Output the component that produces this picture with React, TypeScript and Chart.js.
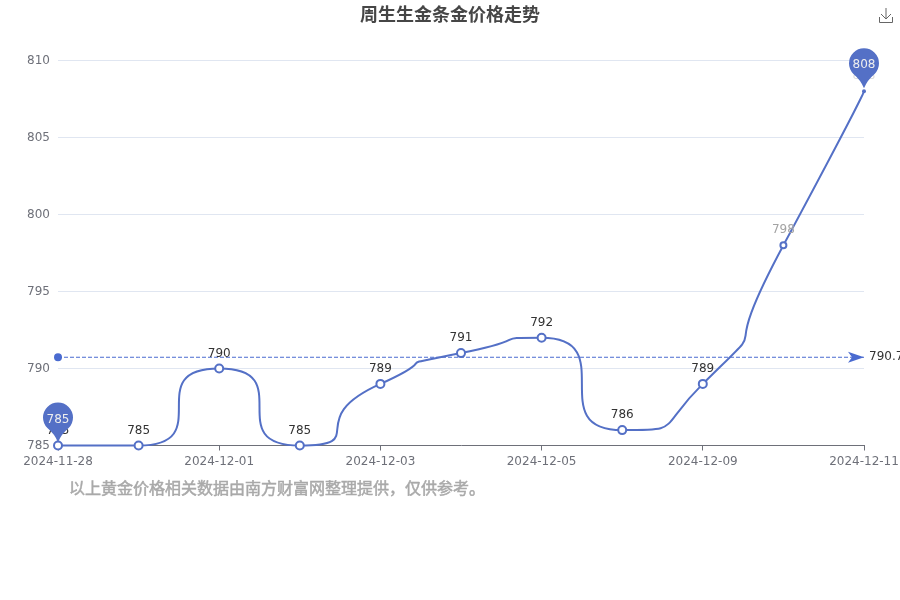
import React, { useEffect, useRef } from 'react';
import { Chart, registerables } from 'chart.js';

Chart.register(...registerables);

const dates = ['2024-11-28', '2024-11-29', '2024-12-01', '2024-12-02', '2024-12-03', '2024-12-04', '2024-12-05', '2024-12-06', '2024-12-09', '2024-12-10', '2024-12-11'];
const prices = [785, 785, 790, 785, 789, 791, 792, 786, 789, 798, 808];
const meanPrice = [790.73];
const minIndex = 0;
const maxIndex = 10;
const fadedIndex = 9;

const BLUE = '#5470c6';
const MARK_BLUE = '#4a6bd0';
const SANS = '"DejaVu Sans", "Noto Sans CJK SC", sans-serif';

// same bezier rule the source curve uses (control points clamped to the neighbours)
const smoothPlugin = {
  id: 'smoothCurve',
  beforeDatasetDraw(chart: any, args: any) {
    if (args.index !== 0) return;
    const line = args.meta.dataset;
    line.updateControlPoints(chart.chartArea);
    const pts = args.meta.data;
    const clamp = (v: number, a: number, b: number) => Math.max(Math.min(v, Math.max(a, b)), Math.min(a, b));
    pts.forEach((p: any, i: number) => {
      const prev = pts[i - 1];
      const next = pts[i + 1];
      if (!prev || !next) {
        p.cp1x = p.x; p.cp1y = p.y; p.cp2x = p.x; p.cp2y = p.y;
        return;
      }
      const lenPrev = Math.hypot(p.x - prev.x, p.y - prev.y);
      const lenNext = Math.hypot(next.x - p.x, next.y - p.y);
      const ratio = lenNext / (lenNext + lenPrev);
      let nx = clamp(p.x + (next.x - prev.x) * ratio, next.x, p.x);
      let ny = clamp(p.y + (next.y - prev.y) * ratio, next.y, p.y);
      const cx = clamp(p.x - (nx - p.x) * lenPrev / lenNext, prev.x, p.x);
      const cy = clamp(p.y - (ny - p.y) * lenPrev / lenNext, prev.y, p.y);
      nx = p.x + (p.x - cx) * lenNext / lenPrev;
      ny = p.y + (p.y - cy) * lenNext / lenPrev;
      p.cp1x = cx; p.cp1y = cy; p.cp2x = nx; p.cp2y = ny;
    });
  },
};

const drawPin = (ctx: CanvasRenderingContext2D, x: number, y: number, text: string) => {
  const r = 15;
  const cy = y - 28;
  const a = Math.PI * 0.25;
  ctx.beginPath();
  ctx.arc(x, cy, r, Math.PI - a, a);
  ctx.quadraticCurveTo(x + 3, cy + 17, x, y - 3);
  ctx.quadraticCurveTo(x - 3, cy + 17, x - r * Math.cos(a), cy + r * Math.sin(a));
  ctx.closePath();
  ctx.fillStyle = BLUE;
  ctx.fill();
  ctx.fillStyle = '#eee';
  ctx.font = `12px ${SANS}`;
  ctx.textAlign = 'center';
  ctx.textBaseline = 'middle';
  ctx.fillText(text, x, cy + 2);
};

const labelColor = (i: number) => (i === maxIndex ? '#ddd' : i === fadedIndex ? '#a3a3a3' : '#333');

const marksPlugin = {
  id: 'marks',
  afterDatasetsDraw(chart: any) {
    const { ctx } = chart;
    const pts = chart.getDatasetMeta(0).data;
    const meanPts = chart.getDatasetMeta(1).data;
    ctx.save();

    // value labels
    ctx.font = `12px ${SANS}`;
    ctx.textAlign = 'center';
    ctx.textBaseline = 'middle';
    pts.forEach((p: any, i: number) => {
      ctx.fillStyle = labelColor(i);
      ctx.fillText(String(prices[i]), p.x, p.y - 15);
    });

    // arrow and label at the end of the mean line
    const end = meanPts[meanPts.length - 1];
    ctx.beginPath();
    ctx.moveTo(end.x, end.y);
    ctx.lineTo(end.x - 16, end.y - 5.5);
    ctx.lineTo(end.x - 12, end.y);
    ctx.lineTo(end.x - 16, end.y + 5.5);
    ctx.closePath();
    ctx.fillStyle = MARK_BLUE;
    ctx.fill();
    ctx.fillStyle = '#333';
    ctx.textAlign = 'left';
    ctx.fillText(meanPrice[0].toFixed(2), end.x + 5, end.y);

    drawPin(ctx, pts[minIndex].x, pts[minIndex].y, String(prices[minIndex]));
    drawPin(ctx, pts[maxIndex].x, pts[maxIndex].y, String(prices[maxIndex]));

    // download icon
    ctx.strokeStyle = '#666';
    ctx.lineWidth = 1;
    ctx.beginPath();
    ctx.moveTo(879.5, 17);
    ctx.lineTo(879.5, 22.5);
    ctx.lineTo(892.5, 22.5);
    ctx.lineTo(892.5, 17);
    ctx.moveTo(886, 8);
    ctx.lineTo(886, 19);
    ctx.moveTo(881, 14);
    ctx.lineTo(886, 19);
    ctx.lineTo(891, 14);
    ctx.stroke();
    ctx.restore();
  },
};

export default function App() {
  const canvasRef = useRef<HTMLCanvasElement>(null);

  useEffect(() => {
    if (!canvasRef.current) return;
    const chart = new Chart(canvasRef.current, {
      type: 'line',
      data: {
        labels: dates,
        datasets: [
          {
            data: prices,
            borderColor: BLUE,
            borderWidth: 2,
            tension: 0.4,
            clip: false,
            pointBackgroundColor: (c: any) => (c.dataIndex === maxIndex ? BLUE : '#fff'),
            pointBorderColor: BLUE,
            pointBorderWidth: (c: any) => (c.dataIndex === maxIndex ? 0 : 2),
            pointRadius: (c: any) => (c.dataIndex === maxIndex ? 2 : c.dataIndex === fadedIndex ? 3 : 4),
          },
          {
            data: dates.map(() => meanPrice[0]),
            borderColor: MARK_BLUE,
            borderWidth: 1,
            borderDash: [4, 2],
            clip: false,
            pointBackgroundColor: MARK_BLUE,
            pointBorderWidth: 0,
            pointRadius: (c: any) => (c.dataIndex === 0 ? 4 : 0),
          },
        ],
      },
      options: {
        responsive: false,
        animation: false,
        events: [],
        plugins: {
          legend: { display: false },
          tooltip: { enabled: false },
          title: {
            display: true,
            text: '周生生金条金价格走势',
            color: '#464646',
            font: { family: SANS, size: 18, weight: 'bold', lineHeight: 1.2 },
            padding: { top: 6, bottom: 32.9 },
          },
        },
        scales: {
          x: {
            offset: false,
            afterFit: (s: any) => {
              s.height = 154.5;
              s.paddingLeft = 0;
              s.paddingRight = 36;
            },
            border: { color: '#6e7079', width: 1 },
            grid: { drawOnChartArea: false, tickLength: 5, tickColor: '#6e7079' },
            ticks: {
              autoSkip: false,
              maxRotation: 0,
              padding: 4,
              color: '#6e7079',
              font: { family: SANS, size: 12 },
              callback: (_v: any, i: number) => (i % 2 === 0 ? dates[i] : null),
            },
          },
          y: {
            min: 785,
            max: 810,
            afterFit: (s: any) => { s.width = 58; },
            border: { display: false },
            grid: { color: '#e0e6f1', drawTicks: false },
            ticks: {
              stepSize: 5,
              padding: 8,
              labelOffset: 0.5,
              color: '#6e7079',
              font: { family: SANS, size: 12 },
            },
          },
        },
      },
      plugins: [smoothPlugin, marksPlugin],
    } as any);
    return () => chart.destroy();
  }, []);

  return (
    <div style={{ position: 'absolute', left: 0, top: 0, width: 900, height: 600, background: '#fff' }}>
      <canvas ref={canvasRef} width={900} height={600} style={{ display: 'block' }} />
      <div style={{ position: 'absolute', left: 69, top: 478, fontFamily: SANS, fontSize: 16, lineHeight: '22px', color: '#a9a9a9', WebkitTextStroke: '0.5px #a9a9a9', whiteSpace: 'nowrap' }}>
        以上黄金价格相关数据由南方财富网整理提供，仅供参考。
      </div>
    </div>
  );
}
